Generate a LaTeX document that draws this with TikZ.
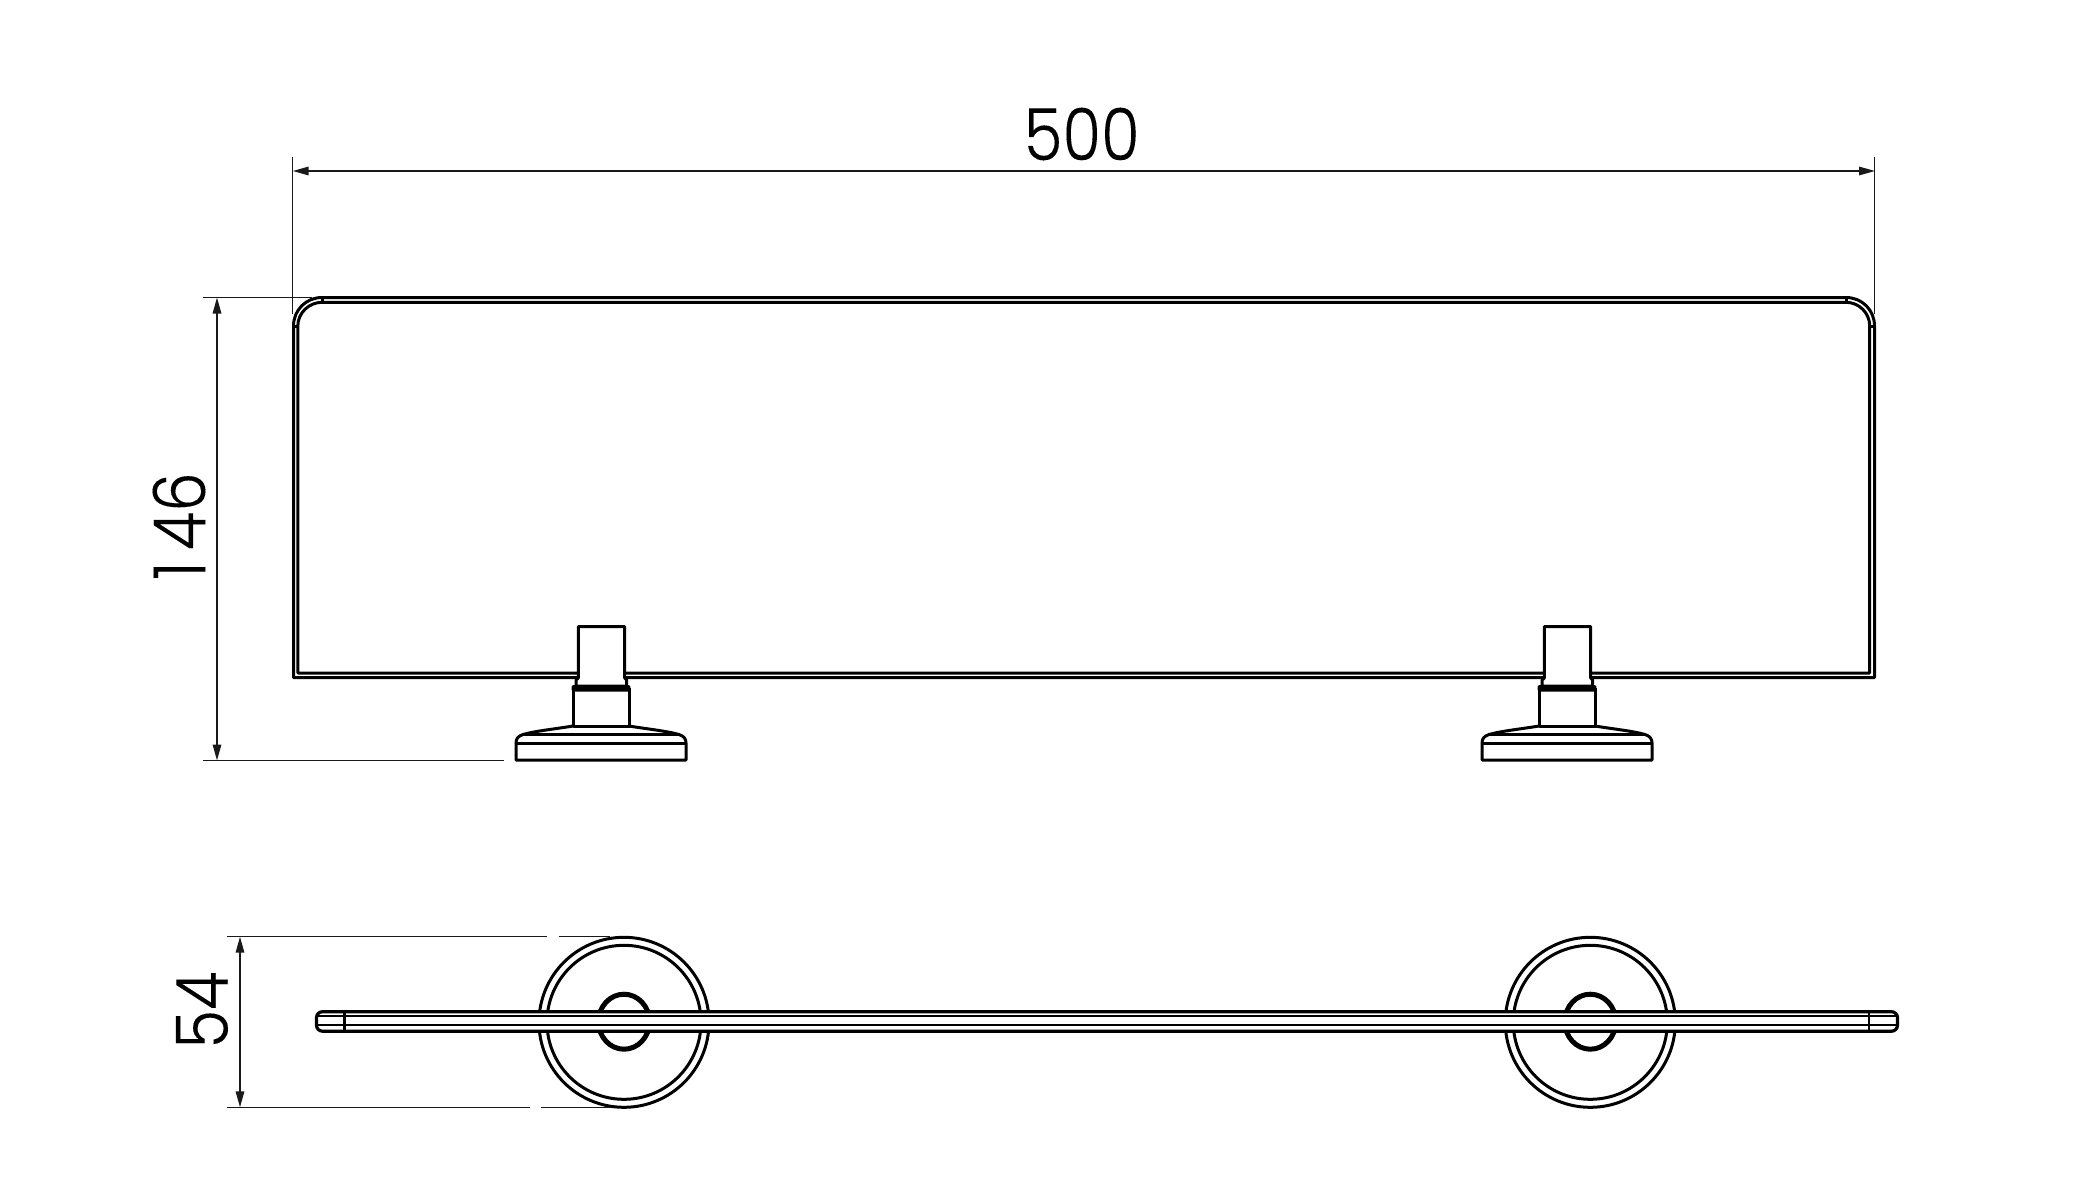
\documentclass[tikz,border=0pt]{standalone}
\usepackage{fontspec}
\usetikzlibrary{arrows.meta}
\newfontfamily\dimfont[FakeBold=0.12]{Poppins Light}
\tikzset{
  part/.style={line width=3pt,black,line join=round},
  fine/.style={line width=2.4pt,black},
  dimline/.style={line width=1.6pt,black!90,{Triangle[length=16pt,width=8.5pt]}-{Triangle[length=16pt,width=8.5pt]}},
  extline/.style={line width=1.5pt,black!90},
  dimtext/.style={font=\dimfont\fontsize{72}{72}\selectfont,inner sep=0pt,text=black}
}
\begin{document}
\begin{tikzpicture}[x=1pt,y=-1pt]
\useasboundingbox (0,0) rectangle (2076,1178);
% dimension anchors
\coordinate (wa) at (292.7,171); \coordinate (wb) at (1875,171);
\coordinate (wat) at (292.7,157); \coordinate (wab) at (292.7,314);
\coordinate (wbt) at (1874.7,157); \coordinate (wbb) at (1874.7,314);
\coordinate (ha) at (217,297.5); \coordinate (hb) at (217,760.5);
\coordinate (hat) at (203,297.7); \coordinate (hae) at (312,297.7);
\coordinate (hbt) at (203,760.3); \coordinate (hbe) at (503.5,760.3);
\coordinate (da) at (240,936.7); \coordinate (db) at (240,1107.3);
\coordinate (dat) at (226.7,936.7); \coordinate (dae1) at (546.7,936.7);
\coordinate (dae2) at (558.7,936.7); \coordinate (dae3) at (610,936.7);
\coordinate (dbt) at (226.7,1107.3); \coordinate (dbe1) at (530,1107.3);
\coordinate (dbe2) at (541,1107.3); \coordinate (dbe3) at (610,1107.3);
% shell, front view
\draw[part] (293.5,677.5) -- (293.5,326) .. controls (293.5,310) and (306,297.5) .. (322,297.5)
  -- (1846,297.5) .. controls (1862,297.5) and (1874.5,310) .. (1874.5,326) -- (1874.5,677.5) -- cycle;
\draw[part] (297.8,673) -- (297.8,326) .. controls (297.8,313) and (309,302.3) .. (322,302.3)
  -- (1846,302.3) .. controls (1859,302.3) and (1869.7,313) .. (1869.7,326) -- (1869.7,673) -- cycle;
\draw[part] (322,297.5) -- (322,302.3) (1846,297.5) -- (1846,302.3)
  (293.5,326) -- (297.8,326) (1869.7,326) -- (1874.5,326);
% brackets, front view
\foreach \dx in {0,966}{
\begin{scope}[xshift=\dx pt]
  \draw[part,fill=white] (578.3,686) -- (576,686) -- (576,680) -- (578.3,678) -- (578.3,626.5)
     -- (624.7,626.5) -- (624.7,678) -- (626.7,680) -- (626.7,686) -- cycle;
  \draw[part,fill=white] (573,688) -- (573,726) -- (629,726) -- (629,688);
  \fill[black,rounded corners=1.5pt] (571.7,685) rectangle (630.3,691.5);
  \draw[part] (573,726) .. controls (555,729) and (535,731) .. (523,734.5)
     .. controls (518,736) and (516,739) .. (516,743) -- (516,760) -- (686,760) -- (686,743)
     .. controls (686,739) and (684,736) .. (679,734.5) .. controls (667,731) and (647,729) .. (629,726);
  \draw[line width=3pt] (523,734.4) -- (679,734.4);
  \draw[line width=3pt] (516,743.3) -- (686,743.3);
\end{scope}
}
% discs, top view
\foreach \cx in {624,1590.3}{
  \draw[part] (\cx,1022.3) circle[radius=85];
  \draw[part] (\cx,1022.3) circle[radius=77];
  \draw[line width=5pt] (\cx,1021.7) ellipse[x radius=25.5,y radius=27.5];
}
% shelf, top view
\draw[line width=3.2pt,fill=white,rounded corners=6pt] (316.5,1011.7) rectangle (1897.5,1031.2);
\draw[fine] (317,1016.2) -- (1897,1016.2) (317,1025.2) -- (1897,1025.2);
\draw[fine] (344.3,1011.7) -- (344.3,1031.2) (1869,1011.7) -- (1869,1031.2);
% dimensions
\draw[extline] (wat) -- (wab) (wbt) -- (wbb);
\draw[extline] (hat) -- (hae) (hbt) -- (hbe);
\draw[extline] (dat) -- (dae1) (dae2) -- (dae3) (dbt) -- (dbe1) (dbe2) -- (dbe3);
\draw[dimline] (wa) -- (wb);
\draw[dimline] (ha) -- (hb);
\draw[dimline] (da) -- (db);
\node[dimtext,xscale=.87] (t500) at (1081.7,134) {500};
\node[dimtext,rotate=90,xscale=.87] (t146) at (179,526) {1\kern13pt 46};
\node[dimtext,rotate=90,xscale=.87] (t54) at (202,1010) {54};
\end{tikzpicture}
\end{document}
